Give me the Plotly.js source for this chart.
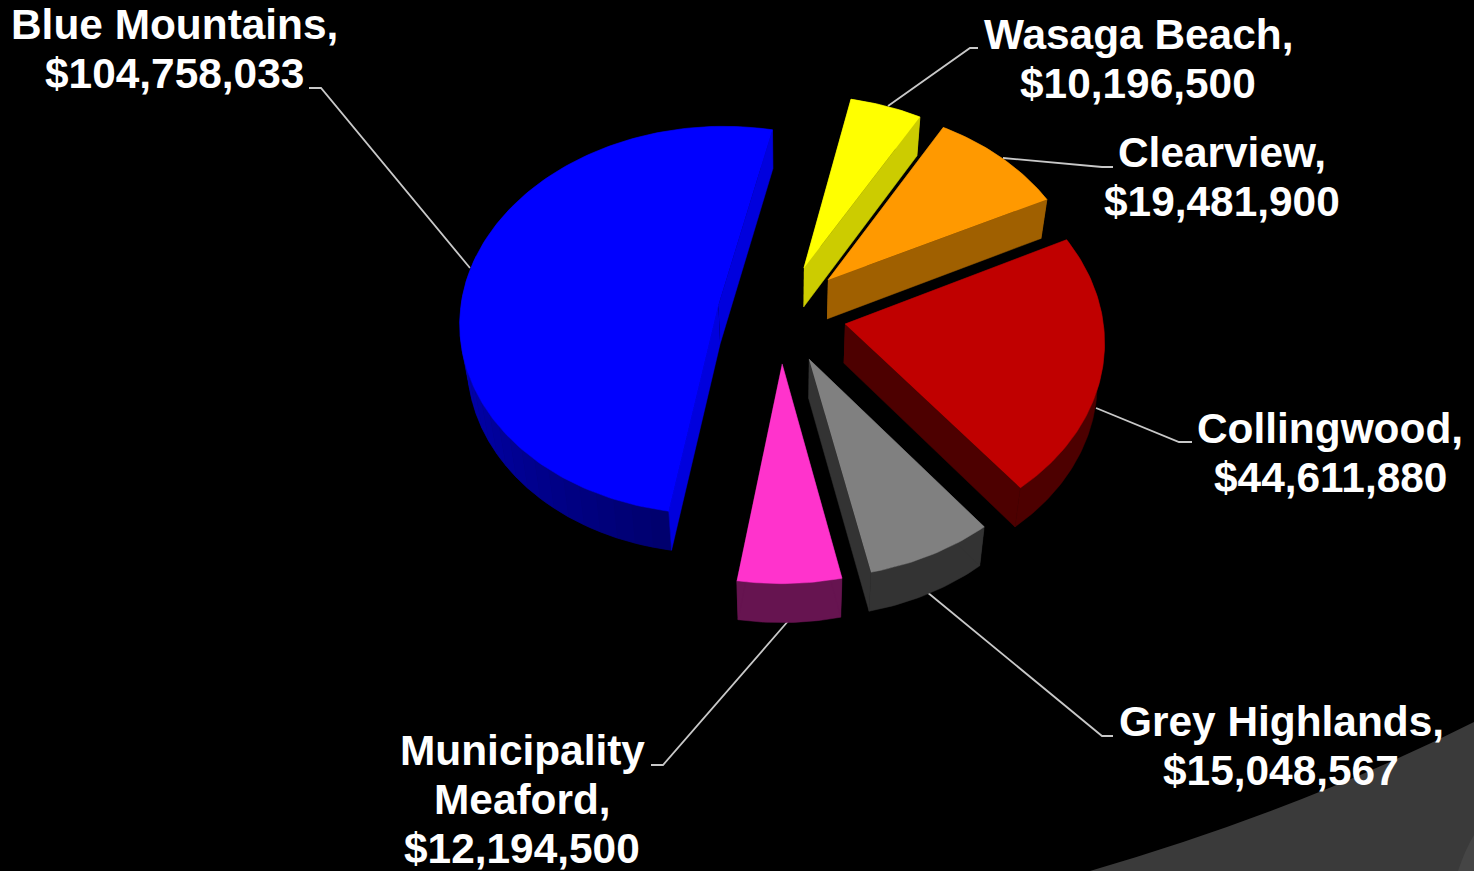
<!DOCTYPE html>
<html>
<head>
<meta charset="utf-8">
<script src="https://cdn.plot.ly/plotly-3.0.1.min.js"></script>
<style>html,body{margin:0;padding:0;background:#000;overflow:hidden}#chart{width:1474px;height:871px}</style>
</head>
<body>
<div id="chart"></div>
<script>
// --- data ---
const categories = ["Blue Mountains", "Wasaga Beach", "Clearview", "Collingwood", "Grey Highlands", "Municipality Meaford"];
const values = [104758033, 10196500, 19481900, 44611880, 15048567, 12194500];
const labelLines = [["Blue Mountains,"], ["Wasaga Beach,"], ["Clearview,"], ["Collingwood,"], ["Grey Highlands,"], ["Municipality", "Meaford,"]];

// --- styles ---
const topColors = ["#0000FF", "#FFFF00", "#FF9900", "#C00000", "#808080", "#FF33CC"];
const rimColors = ["#000070", "#CCCC00", "#A06000", "#4D0000", "#333333", "#661450"];
const cutColors = ["#0000DD", "#CCCC00", "#A06000", "#4D0000", "#333333", "#661450"];
// explosion of each slice in the pie plane, in pie radii
const explodeX = [-0.278, 0.055, 0.149, 0.212, 0.072, -0.030];
const explodeY = [0.128, 0.321, 0.258, 0.030, -0.145, -0.169];
const sliceScaleX = [1.0, 0.995, 0.998, 0.996, 0.995, 0.995];
const sliceScaleY = [0.993, 0.985, 0.985, 0.997, 0.992, 0.993];
const labelCenterX = [174.5, 1138, 1222, 1330, 1281, 522];
const labelFirstY = [24, 34, 152, 428, 721, 750];
const lineGap = 49;
const leaderX = [[309,321,470],[978,970,888],[1113,1102,1003],[1192,1179,1096],[1113,1102,927],[651,663,789]];
const leaderY = [[88,88,268],[48,48,106],[167,167,158],[442,442,408],[736,736,592],[765,765,620]];

// --- projection of the tilted pie ---
const centerX = 790, centerY = 330, radiusX = 260, radiusY = 198, persp = 0.08;
const depthScale = 0.977, depthDrop = 39, startAngle = 189;
const shadeEndAngle = 285, shadeStep = 4, shadeFrom = 110, shadeTo = 205;

function project(X, Y) {
  const w = 1 + persp * Y;
  return [centerX + radiusX * X / w, centerY - radiusY * Y / w];
}
function lower(p) {
  return [centerX + (p[0] - centerX) * depthScale, p[1] + depthDrop];
}
function poly(points, color, name) {
  return {
    type: "scatter", mode: "lines", fill: "toself", fillcolor: color,
    x: points.map(p => p[0]), y: points.map(p => p[1]),
    line: {width: 0.5, color: color}, hoverinfo: "text", text: name, showlegend: false
  };
}

const total = values.reduce((a, b) => a + b, 0);
const sliceTraces = [];
const paintOrder = [1, 2, 0, 3, 4, 5];
const spans = [];
let running = startAngle;
values.forEach((v, i) => {
  const sweep = v / total * 360;
  spans.push([running, running + sweep]);
  running += sweep;
});
paintOrder.forEach(i => {
  const [a0, a1] = spans[i];
  const ex = explodeX[i], ey = explodeY[i];
  const edge = deg => {
    const t = deg * Math.PI / 180;
    return project(ex + sliceScaleX[i] * Math.sin(t), ey + sliceScaleY[i] * Math.cos(t));
  };
  const apex = project(ex, ey);
  const arc = [];
  const steps = Math.max(8, Math.ceil(a1 - a0));
  for (let k = 0; k <= steps; k++) arc.push(edge(a0 + (a1 - a0) * k / steps));
  const arcLow = arc.map(lower).reverse();
  const name = categories[i] + ": $" + values[i].toLocaleString("en-US");
  sliceTraces.push(poly(arc.concat(arcLow), rimColors[i], name));
  if (i === 0) {
    // the large slice's rim brightens towards the left
    for (let d = a0; d < shadeEndAngle; d += shadeStep) {
      const f = (d - a0) / (shadeEndAngle - a0);
      const b = Math.round(shadeFrom + (shadeTo - shadeFrom) * f);
      const seg = [];
      for (let e = 0; e <= shadeStep; e++) seg.push(edge(d + e));
      sliceTraces.push(poly(seg.concat(seg.map(lower).reverse()), "rgb(0,0," + b + ")", name));
    }
  }
  const first = arc[0], last = arc[arc.length - 1];
  sliceTraces.push(poly([apex, first, lower(first), lower(apex)], cutColors[i], name));
  sliceTraces.push(poly([apex, last, lower(last), lower(apex)], cutColors[i], name));
  sliceTraces.push(poly([apex].concat(arc), topColors[i], name));
});

const leaderTraces = categories.map((c, i) => ({
  type: "scatter", mode: "lines", x: leaderX[i], y: leaderY[i],
  line: {color: "#C8C8C8", width: 1.8}, hoverinfo: "skip", showlegend: false
}));

const annotations = [];
categories.forEach((c, i) => {
  const lines = labelLines[i].concat(["$" + values[i].toLocaleString("en-US")]);
  lines.forEach((text, k) => annotations.push({
    x: labelCenterX[i], y: labelFirstY[i] + k * lineGap, xref: "x", yref: "y",
    text: text, showarrow: false, xanchor: "center", yanchor: "middle",
    font: {family: "Liberation Sans, Arial, sans-serif", size: 42.4, color: "#FFFFFF", weight: 700}
  }));
});

const layout = {
  width: 1474, height: 871,
  margin: {l: 0, r: 0, t: 0, b: 0},
  paper_bgcolor: "#000000", plot_bgcolor: "#000000",
  xaxis: {range: [0, 1474], visible: false, fixedrange: true},
  yaxis: {range: [871, 0], visible: false, fixedrange: true},
  showlegend: false,
  annotations: annotations,
  shapes: [{
    type: "path", layer: "below", xref: "x", yref: "y",
    path: "M1090 871 Q1300 810 1474 722 L1474 871 Z",
    fillcolor: "#3A3A3A", line: {width: 0}
  }, {
    type: "path", layer: "below", xref: "x", yref: "y",
    path: "M1474 835 Q1465 850 1458 871 L1474 871 Z",
    fillcolor: "#454545", line: {width: 0}
  }]
};
Plotly.newPlot("chart", leaderTraces.concat(sliceTraces), layout, {displayModeBar: false});
</script>
</body>
</html>
